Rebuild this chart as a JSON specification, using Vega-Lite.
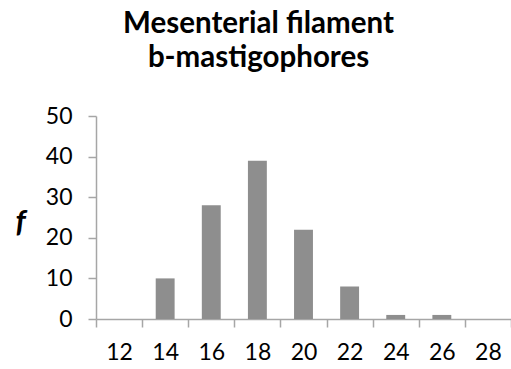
{
  "$schema": "https://vega.github.io/schema/vega-lite/v6.json",
  "width": 415,
  "height": 203,
  "autosize": "none",
  "padding": {"left": 96, "top": 116, "right": 0, "bottom": 50},
  "background": "white",
  "title": {
    "text": ["Mesenterial filament", "b-mastigophores"],
    "font": "Lato",
    "fontSize": 29.5,
    "fontWeight": "bold",
    "color": "#000000",
    "lineHeight": 34,
    "anchor": "middle",
    "dx": -45,
    "offset": 32
  },
  "data": {
    "values": [
      {"size": "12", "f": 0},
      {"size": "14", "f": 10},
      {"size": "16", "f": 28},
      {"size": "18", "f": 39},
      {"size": "20", "f": 22},
      {"size": "22", "f": 8},
      {"size": "24", "f": 1},
      {"size": "26", "f": 1},
      {"size": "28", "f": 0}
    ]
  },
  "mark": {"type": "bar", "color": "#8e8e8e", "width": {"band": 0.41}},
  "encoding": {
    "x": {
      "field": "size",
      "type": "ordinal",
      "sort": null,
      "scale": {"paddingInner": 0, "paddingOuter": 0},
      "axis": {
        "title": null,
        "labelAngle": 0,
        "labelFont": "Lato",
        "labelFontSize": 23,
        "labelColor": "#000000",
        "labelPadding": 14,
        "tickBand": "extent",
        "tickSize": 8,
        "tickColor": "#a6a6a6",
        "domainColor": "#a6a6a6",
        "tickWidth": 1.5,
        "domainWidth": 1.5,
        "grid": false
      }
    },
    "y": {
      "field": "f",
      "type": "quantitative",
      "scale": {"domain": [0, 50], "nice": false},
      "axis": {
        "title": "f",
        "titleFont": "Lato",
        "titleFontSize": 31,
        "titleFontWeight": "bold",
        "titleFontStyle": "italic",
        "titleColor": "#000000",
        "titleAngle": 0,
        "titleAlign": "center",
        "titleBaseline": "middle",
        "titleX": -76,
        "titleY": 106,
        "values": [0, 10, 20, 30, 40, 50],
        "labelFont": "Lato",
        "labelFontSize": 23,
        "labelColor": "#000000",
        "labelPadding": 16,
        "tickSize": 8,
        "tickColor": "#a6a6a6",
        "domainColor": "#a6a6a6",
        "tickWidth": 1.5,
        "domainWidth": 1.5,
        "grid": false
      }
    }
  },
  "config": {"view": {"stroke": null}}
}
